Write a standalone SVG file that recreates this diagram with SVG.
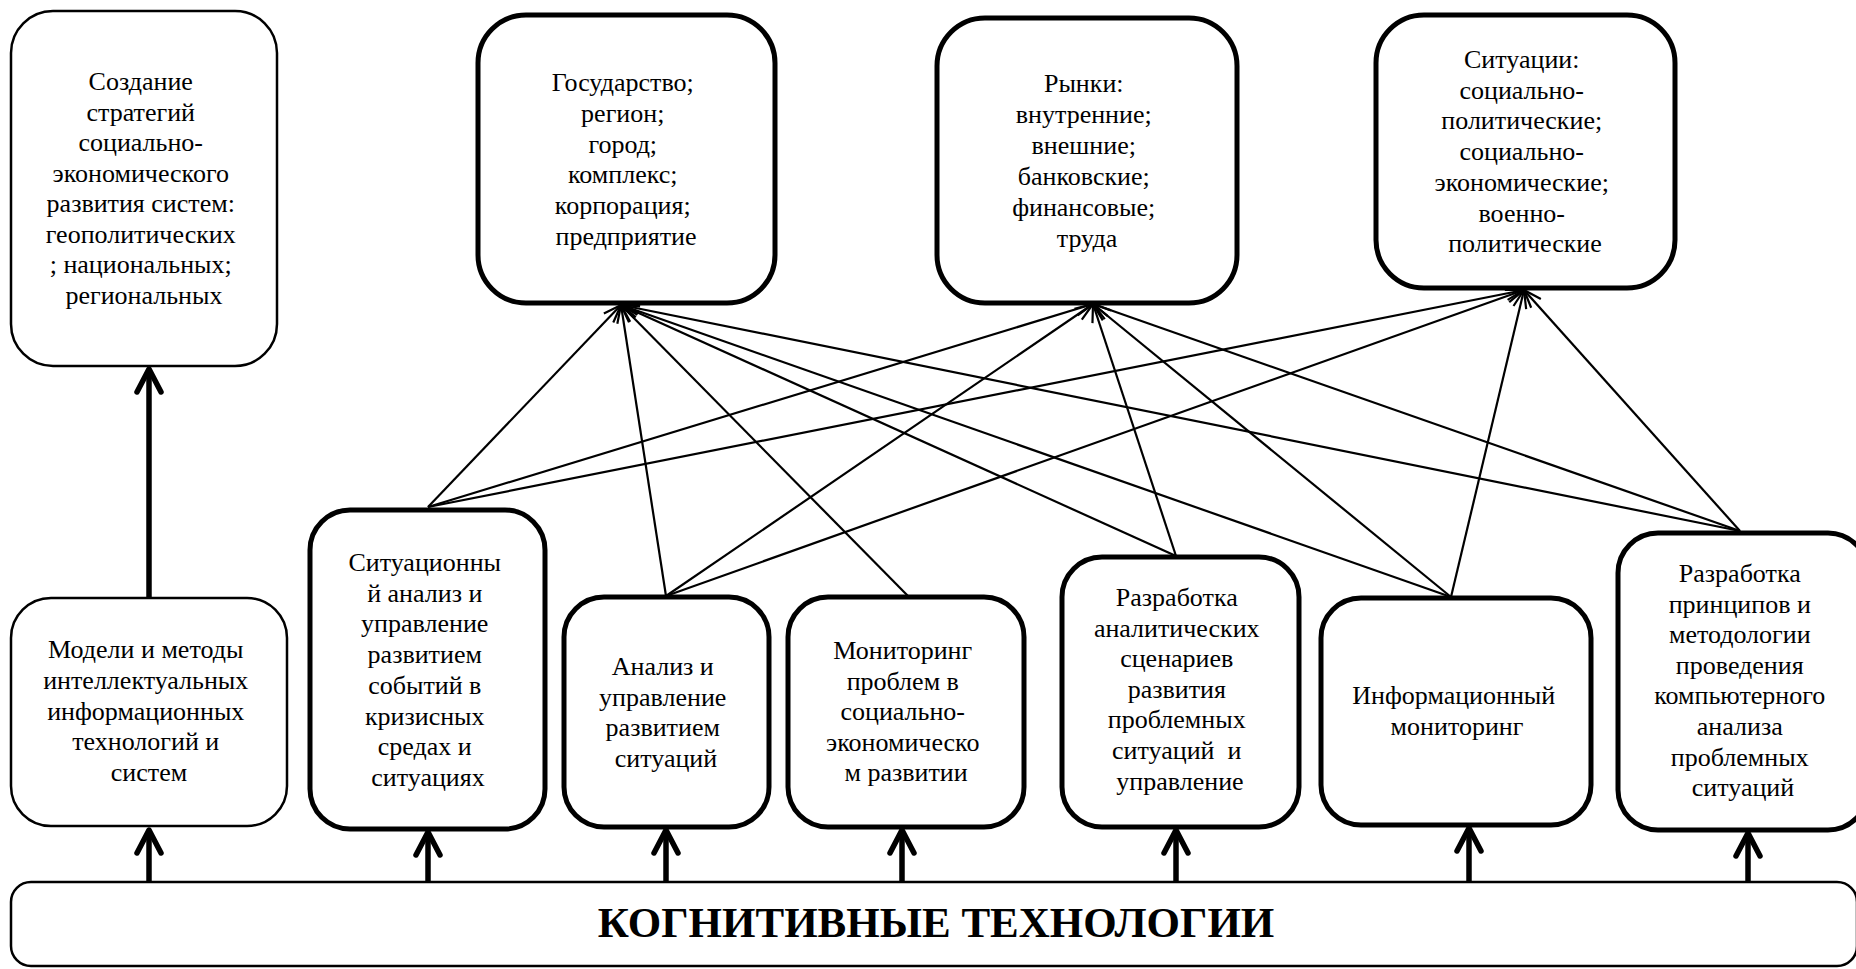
<svg xmlns="http://www.w3.org/2000/svg" width="1856" height="969" viewBox="0 0 1856 969">
  <style>
    .thin { fill: #fff; stroke: #000; stroke-width: 2.5; }
    .bold { fill: #fff; stroke: #000; stroke-width: 5; }
    text { font-family: 'Liberation Serif', Tinos, 'Times New Roman', 'DejaVu Serif', serif; }
    .lbl { font-size: 26px; text-anchor: middle; fill: #000; }
    .title { font-size: 43px; font-weight: bold; text-anchor: middle; fill: #000; }
    .link { fill: none; stroke: #000; stroke-width: 2.2; marker-end: url(#tip); }
    .feed { fill: none; stroke: #000; stroke-width: 5.5; marker-end: url(#tipBold); }
  </style>
  <defs>
    <marker id="tip" viewBox="0 0 20 16" markerWidth="20" markerHeight="16" refX="19" refY="8" orient="auto" markerUnits="userSpaceOnUse">
      <path d="M1,1.5 L19,8 L1,14.5" fill="none" stroke="#000" stroke-width="2.2"/>
    </marker>
    <marker id="tipBold" viewBox="0 0 30 30" markerWidth="30" markerHeight="30" refX="26" refY="15" orient="auto" markerUnits="userSpaceOnUse">
      <path d="M3,3 L26,15 L3,27" fill="none" stroke="#000" stroke-width="5.5" stroke-linecap="round" stroke-linejoin="round"/>
    </marker>
  </defs>

  <rect width="1856" height="969" fill="#fff"/>

  <!-- connectors -->
  <g id="connectors">
    <!-- feeds from the base block -->
    <path class="feed" d="M149,882 V830"/>
    <path class="feed" d="M428,882 V832"/>
    <path class="feed" d="M666,882 V830"/>
    <path class="feed" d="M902,882 V830"/>
    <path class="feed" d="M1176,882 V830"/>
    <path class="feed" d="M1469,882 V828"/>
    <path class="feed" d="M1748,882 V833"/>
    <path class="feed" d="M149,598 V369"/>
    <!-- links to the objects of analysis -->
    <path class="link" d="M428,507 L621,305"/>
    <path class="link" d="M428,507 L1093,304"/>
    <path class="link" d="M428,507 L1524,290"/>
    <path class="link" d="M666,596 L621,305"/>
    <path class="link" d="M666,596 L1093,304"/>
    <path class="link" d="M666,596 L1524,290"/>
    <path class="link" d="M908,596 L621,305"/>
    <path class="link" d="M1176,556 L621,305"/>
    <path class="link" d="M1176,556 L1093,304"/>
    <path class="link" d="M1451,597 L621,305"/>
    <path class="link" d="M1451,597 L1093,304"/>
    <path class="link" d="M1451,597 L1524,290"/>
    <path class="link" d="M1740,531 L621,305"/>
    <path class="link" d="M1740,531 L1093,304"/>
    <path class="link" d="M1740,531 L1524,290"/>
  </g>

  <!-- top row -->
  <g id="strategy">
    <rect class="thin" x="11" y="11" width="266" height="355" rx="42"/>
    <text class="lbl" font-family="Liberation Serif, serif">
      <tspan x="144" y="90">Создание</tspan>
      <tspan x="144" y="120.5">стратегий</tspan>
      <tspan x="144" y="151">социально-</tspan>
      <tspan x="144" y="181.5">экономического</tspan>
      <tspan x="144" y="212">развития систем:</tspan>
      <tspan x="144" y="242.5">геополитических</tspan>
      <tspan x="144" y="273">; национальных;</tspan>
      <tspan x="144" y="303.5">региональных</tspan>
    </text>
  </g>

  <g id="state">
    <rect class="bold" x="478" y="15" width="297" height="288" rx="48"/>
    <text class="lbl">
      <tspan x="626" y="91">Государство;</tspan>
      <tspan x="626" y="121.8">регион;</tspan>
      <tspan x="626" y="152.6">город;</tspan>
      <tspan x="626" y="183.4">комплекс;</tspan>
      <tspan x="626" y="214.2">корпорация;</tspan>
      <tspan x="626" y="245">предприятие</tspan>
    </text>
  </g>

  <g id="markets">
    <rect class="bold" x="937" y="18" width="300" height="285" rx="48"/>
    <text class="lbl">
      <tspan x="1087" y="92">Рынки:</tspan>
      <tspan x="1087" y="122.9">внутренние;</tspan>
      <tspan x="1087" y="153.8">внешние;</tspan>
      <tspan x="1087" y="184.7">банковские;</tspan>
      <tspan x="1087" y="215.6">финансовые;</tspan>
      <tspan x="1087" y="246.5">труда</tspan>
    </text>
  </g>

  <g id="situations">
    <rect class="bold" x="1376" y="15" width="299" height="273" rx="48"/>
    <text class="lbl">
      <tspan x="1525" y="68">Ситуации:</tspan>
      <tspan x="1525" y="98.7">социально-</tspan>
      <tspan x="1525" y="129.4">политические;</tspan>
      <tspan x="1525" y="160.1">социально-</tspan>
      <tspan x="1525" y="190.8">экономические;</tspan>
      <tspan x="1525" y="221.5">военно-</tspan>
      <tspan x="1525" y="252.2">политические</tspan>
    </text>
  </g>

  <!-- bottom row -->
  <g id="models">
    <rect class="thin" x="11" y="598" width="276" height="228" rx="40"/>
    <text class="lbl">
      <tspan x="149" y="658">Модели и методы</tspan>
      <tspan x="149" y="688.8">интеллектуальных</tspan>
      <tspan x="149" y="719.6">информационных</tspan>
      <tspan x="149" y="750.4">технологий и</tspan>
      <tspan x="149" y="781.2">систем</tspan>
    </text>
  </g>

  <g id="crisis">
    <rect class="bold" x="310" y="510" width="235" height="319" rx="40"/>
    <text class="lbl">
      <tspan x="428" y="571">Ситуационны</tspan>
      <tspan x="428" y="601.7">й анализ и</tspan>
      <tspan x="428" y="632.4">управление</tspan>
      <tspan x="428" y="663.1">развитием</tspan>
      <tspan x="428" y="693.8">событий в</tspan>
      <tspan x="428" y="724.5">кризисных</tspan>
      <tspan x="428" y="755.2">средах и</tspan>
      <tspan x="428" y="785.9">ситуациях</tspan>
    </text>
  </g>

  <g id="analysis">
    <rect class="bold" x="564" y="597" width="205" height="230" rx="40"/>
    <text class="lbl">
      <tspan x="666" y="675">Анализ и</tspan>
      <tspan x="666" y="705.5">управление</tspan>
      <tspan x="666" y="736">развитием</tspan>
      <tspan x="666" y="766.5">ситуаций</tspan>
    </text>
  </g>

  <g id="monitoring">
    <rect class="bold" x="788" y="597" width="236" height="230" rx="40"/>
    <text class="lbl">
      <tspan x="906" y="659">Мониторинг</tspan>
      <tspan x="906" y="689.5">проблем в</tspan>
      <tspan x="906" y="720">социально-</tspan>
      <tspan x="906" y="750.5">экономическо</tspan>
      <tspan x="906" y="781">м развитии</tspan>
    </text>
  </g>

  <g id="scenarios">
    <rect class="bold" x="1062" y="557" width="237" height="270" rx="40"/>
    <text class="lbl">
      <tspan x="1180" y="606">Разработка</tspan>
      <tspan x="1180" y="636.6">аналитических</tspan>
      <tspan x="1180" y="667.2">сценариев</tspan>
      <tspan x="1180" y="697.8">развития</tspan>
      <tspan x="1180" y="728.4">проблемных</tspan>
      <tspan x="1180" y="759">ситуаций&#160; и</tspan>
      <tspan x="1180" y="789.6">управление</tspan>
    </text>
  </g>

  <g id="info-monitoring">
    <rect class="bold" x="1321" y="598" width="270" height="227" rx="40"/>
    <text class="lbl">
      <tspan x="1457" y="704">Информационный</tspan>
      <tspan x="1457" y="735">мониторинг</tspan>
    </text>
  </g>

  <g id="methodology">
    <rect class="bold" x="1618" y="533" width="250" height="297" rx="40"/>
    <text class="lbl">
      <tspan x="1743" y="582">Разработка</tspan>
      <tspan x="1743" y="612.6">принципов и</tspan>
      <tspan x="1743" y="643.2">методологии</tspan>
      <tspan x="1743" y="673.8">проведения</tspan>
      <tspan x="1743" y="704.4">компьютерного</tspan>
      <tspan x="1743" y="735">анализа</tspan>
      <tspan x="1743" y="765.6">проблемных</tspan>
      <tspan x="1743" y="796.2">ситуаций</tspan>
    </text>
  </g>

  <!-- base block -->
  <g id="cognitive">
    <rect class="thin" x="11" y="882" width="1846" height="84" rx="20"/>
    <text class="title" x="936" y="937">КОГНИТИВНЫЕ ТЕХНОЛОГИИ</text>
  </g>
</svg>
